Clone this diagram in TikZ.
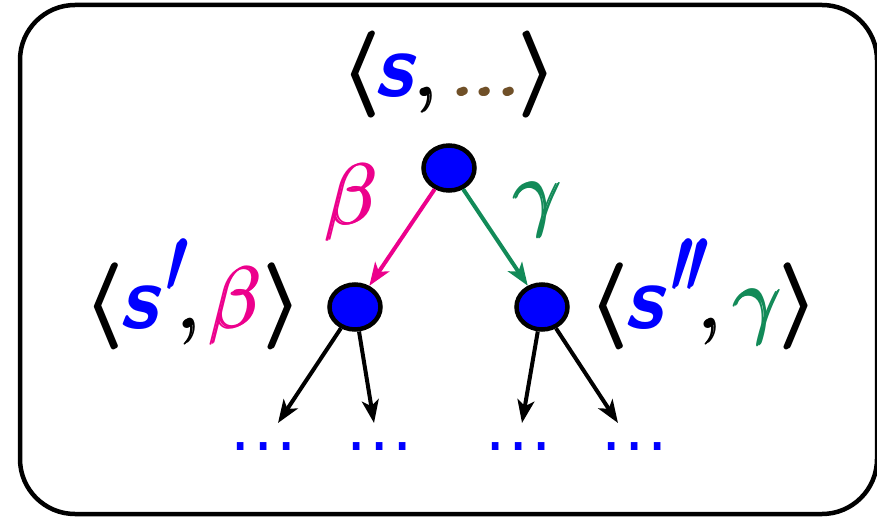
\RequirePackage{fix-cm}
\documentclass[tikz,border=0pt]{standalone}
\usepackage{amsmath}
\usepackage{graphicx}
\usepackage{fontspec}
\usetikzlibrary{shapes.geometric,arrows.meta}

\newfontfamily\dejavu{DejaVu Sans}

\definecolor{sblue}{RGB}{0,0,255}
\definecolor{bpink}{RGB}{236,0,140}
\definecolor{ggreen}{RGB}{18,138,88}
\definecolor{dbrown}{RGB}{112,80,40}

% place a piece at a horizontal offset from the start of its label
\newcommand{\At}[2]{\rlap{\kern#1pt#2}}
% heavy print: three shifted copies of a glyph
\newcommand{\Pmb}[1]{\rlap{#1}\rlap{\kern1pt\raise0.5pt\hbox{#1}}\kern2pt\raise1pt\hbox{#1}}
\newcommand{\PmbH}[1]{\rlap{#1}\rlap{\kern1.4pt\raise0.7pt\hbox{#1}}\kern2.8pt\raise1.4pt\hbox{#1}}

\newcommand{\Lbr}{\Pmb{$\boldsymbol{\langle}$}}
\newcommand{\Rbr}{\Pmb{$\boldsymbol{\rangle}$}}
\newcommand{\Cma}{\PmbH{$,$}}
\newcommand{\Pdot}{\PmbH{$.$}}
\newcommand{\Sv}{\textcolor{sblue}{\sffamily\bfseries\itshape\fontsize{90}{90}\selectfont s}}
\newcommand{\Prm}{\raisebox{35pt}{\scalebox{1.15}[1.45]{\textcolor{sblue}{\fontsize{64}{64}\selectfont\PmbH{$\prime$}}}}}
\newcommand{\Gb}{\textcolor{bpink}{\PmbH{$\beta$}}}
\newcommand{\Gg}{\textcolor{ggreen}{\PmbH{$\gamma$}}}
\newcommand{\Dots}{\At{0}{.}\At{23}{.}\At{46}{.}\hspace*{56pt}}

\tikzset{
  state/.style={ellipse, draw=black, fill=sblue, line width=4.5pt,
    minimum width=51pt, minimum height=45pt, inner sep=0pt},
  edge/.style={line width=4pt, -{Stealth[length=23pt,width=17pt,inset=6pt]}},
  lbl/.style={inner sep=0pt, anchor=base west, font=\fontsize{86}{100}\selectfont},
  more/.style={inner sep=0pt, anchor=base west, text=sblue,
    font=\dejavu\fontsize{64}{70}\selectfont},
}

\begin{document}
\begin{tikzpicture}[x=1pt,y=-1pt]
  \useasboundingbox (0,0) rectangle (877,518);
  \draw[line width=4.5pt, rounded corners=55pt] (20,5) rectangle (877,514);

  % states
  \node[state] (T) at (449,168) {};
  \node[state] (L) at (355,307) {};
  \node[state] (R) at (542,307) {};

  % tuple labels
  \node[lbl] (tT) at (340,97)
    {\At{0}{\Lbr}\At{34.5}{\Sv}\At{72}{\Cma}%
     \At{109.2}{\textcolor{dbrown}{\Pdot}}\At{131.7}{\textcolor{dbrown}{\Pdot}}\At{155.2}{\textcolor{dbrown}{\Pdot}}%
     \At{177}{\Rbr}\hspace*{211pt}};
  \node[lbl] (tL) at (83.5,328)
    {\At{0}{\Lbr}\At{35.5}{\Sv}\At{82}{\Prm}\At{91.5}{\Cma}\At{124}{\Gb}\At{178.5}{\Rbr}\hspace*{212pt}};
  \node[lbl] (tR) at (588.5,328)
    {\At{0}{\Lbr}\At{35.5}{\Sv}\At{82}{\Prm}\At{97}{\Prm}\At{107.5}{\Cma}\At{143}{\Gg}\At{189.5}{\Rbr}\hspace*{223pt}};

  % action labels
  \node[lbl] (aB) at (323,225) {\Gb};
  \node[lbl] (aG) at (511.5,221) {\Gg};

  % branches
  \draw[edge, bpink] (T) -- (L);
  \draw[edge, ggreen] (T) -- (R);

  \coordinate (c1) at (278,423);
  \coordinate (c2) at (374,423);
  \coordinate (c3) at (522,423);
  \coordinate (c4) at (618,423);
  \draw[edge] (L) -- (c1);
  \draw[edge] (L) -- (c2);
  \draw[edge] (R) -- (c3);
  \draw[edge] (R) -- (c4);

  % continuation dots
  \node[more] (m1) at (230.2,450) {\Dots};
  \node[more] (m2) at (346.2,450) {\Dots};
  \node[more] (m3) at (485.2,450) {\Dots};
  \node[more] (m4) at (601.2,450) {\Dots};
\end{tikzpicture}
\end{document}
